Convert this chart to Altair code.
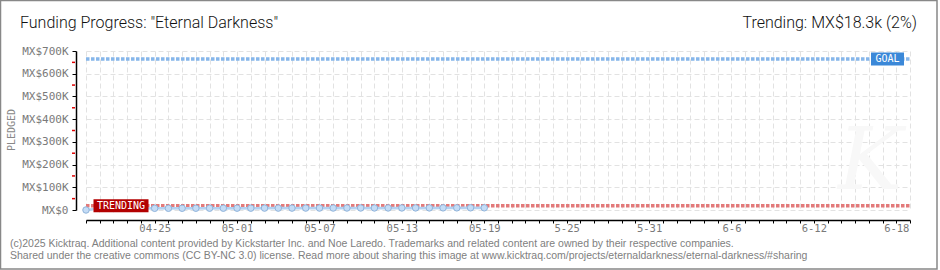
import altair as alt
import pandas as pd

# ---- data -------------------------------------------------------------
days = list(range(30))  # day index from 04-20
pledged = [0, 6500, 7000, 7200, 7300, 7500, 7600, 7700, 7800, 7900,
           8000, 8100, 8200, 8300, 8300, 8400, 8500, 8600, 8700, 8800,
           8900, 9000, 9000, 9100, 9200, 9300, 9400, 9500, 9600, 9700]
trend_value = 18300
goal_value = 665000
last_day = 60
tick_days = [5, 11, 17, 23, 29, 35, 41, 47, 53, 59]
tick_labels = ["04-25", "05-01", "05-07", "05-13", "05-19",
               "5-25", "5-31", "6-6", "6-12", "6-18"]
y_ticks = [0, 100000, 200000, 300000, 400000, 500000, 600000, 700000]
y_minor = [50000, 150000, 250000, 350000, 450000, 550000, 650000]

W, H = 824, 159
AXFONT = "DejaVu Sans Mono"

label_arr = ["" for _ in range(last_day + 1)]
for d, l in zip(tick_days, tick_labels):
    label_arr[d] = l
label_expr = "[" + ",".join("'" + s + "'" for s in label_arr) + "][datum.value]"

pl_df = pd.DataFrame({"day": days, "pledged": pledged})
trend_df = pd.DataFrame({"d0": [0], "d1": [last_day], "v": [trend_value]})
goal_df = pd.DataFrame({"d0": [0], "d1": [last_day], "v": [goal_value]})

xscale = alt.Scale(domain=[0, last_day], nice=False, zero=False)
yscale = alt.Scale(domain=[0, 700000], nice=False)

x_axis = alt.Axis(values=list(range(last_day + 1)), labelExpr=label_expr,
                  title=None, offset=10, domainColor="#000", tickColor="#000",
                  tickSize=3, labelFont=AXFONT, labelFontSize=10.5,
                  labelColor="#7a7a7a", labelPadding=0, labelOverlap=False,
                  labelFlush=False, grid=True, gridColor="#e2e2e2",
                  gridDash=[5, 3], domainWidth=1.5)
y_axis = alt.Axis(values=y_ticks,
                  labelExpr="datum.value == 0 ? 'MX$0' : 'MX$' + (datum.value/1000) + 'K'",
                  title=None, offset=10, domainColor="#000", tickColor="#000",
                  tickSize=4, labelFont=AXFONT, labelFontSize=11,
                  labelColor="#7a7a7a", labelPadding=4, labelOverlap=False,
                  labelFlush=False, grid=True,
                  gridColor="#e2e2e2", gridDash=[5, 3], domainWidth=1.5)


def X(f):
    return alt.X(f, scale=xscale, axis=x_axis)


def Y(f):
    return alt.Y(f, scale=yscale, axis=y_axis)


base_pl = alt.Chart(pl_df)

area = base_pl.mark_area(color="#dbe9f8", opacity=0.6).encode(
    x=X("day:Q"), y=Y("pledged:Q"))

trend = alt.Chart(trend_df).mark_rule(
    color="#e37a7a", strokeWidth=3.5, strokeDash=[3.5, 1.5]).encode(
    x=X("d0:Q"), x2="d1:Q", y=Y("v:Q"))
goal = alt.Chart(goal_df).mark_rule(
    color="#86b6ea", strokeWidth=3.5, strokeDash=[3.5, 1.5]).encode(
    x=X("d0:Q"), x2="d1:Q", y=Y("v:Q"))

pl_line = base_pl.mark_line(color="#b3d1f1", strokeWidth=2.5).encode(
    x=X("day:Q"), y=Y("pledged:Q"))
pl_pts = base_pl.mark_point(filled=True, size=42, color="#c4dcf6",
                            stroke="#8fb3da", strokeWidth=1, opacity=1).encode(
    x=X("day:Q"), y=Y("pledged:Q"))

trend_box = alt.Chart(trend_df).mark_point(
    shape="M-1,-0.236L1,-0.236L1,0.236L-1,0.236Z", size=3025, filled=True,
    color="#b30000", opacity=1).encode(x=alt.value(35), y=Y("v:Q"))
trend_txt = alt.Chart(trend_df).mark_text(
    text="TRENDING", font=AXFONT, fontSize=10, color="#ffffff",
    baseline="middle", align="center").encode(x=alt.value(35), y=Y("v:Q"))
goal_box = alt.Chart(goal_df).mark_point(
    shape="M-1,-0.394L1,-0.394L1,0.394L-1,0.394Z", size=1089, filled=True,
    color="#3b88d8", opacity=1).encode(x=alt.value(801.5), y=Y("v:Q"))
goal_txt = alt.Chart(goal_df).mark_text(
    text="GOAL", font=AXFONT, fontSize=10, color="#ffffff",
    baseline="middle", align="center").encode(x=alt.value(801.5), y=Y("v:Q"))

minor = alt.Chart(pd.DataFrame({"v": y_minor})).mark_rule(
    color="#e00000", strokeWidth=1.5).encode(
    x=alt.value(-14), x2=alt.value(-11), y=Y("v:Q"))

one = pd.DataFrame({"a": [0]})
watermark = alt.Chart(one).mark_text(
    text="K", font="DejaVu Serif", fontSize=86, fontStyle="italic",
    color="#f8f8f8", align="center", baseline="middle").encode(
    x=alt.value(784), y=alt.value(112))

title_l = alt.Chart(one).mark_text(
    text='Funding Progress: "Eternal Darkness"', font="Roboto", fontSize=16,
    fontWeight=300, color="#111111", align="left", baseline="alphabetic").encode(
    x=alt.value(-66), y=alt.value(-23))
title_r = alt.Chart(one).mark_text(
    text="Trending:  MX$18.3k (2%)", font="Roboto", fontSize=16,
    fontWeight=300, color="#111111", align="right", baseline="alphabetic").encode(
    x=alt.value(831), y=alt.value(-23))
ytitle = alt.Chart(one).mark_text(
    text="PLEDGED", font=AXFONT, fontSize=10, color="#888888", angle=270,
    align="center", baseline="middle").encode(
    x=alt.value(-74), y=alt.value(79))
foot1 = alt.Chart(one).mark_text(
    text="(c)2025 Kicktraq. Additional content provided by Kickstarter Inc. and Noe Laredo. Trademarks and related content are owned by their respective companies.",
    font="Liberation Sans", fontSize=10.5, color="#808080", align="left",
    baseline="middle").encode(x=alt.value(-76), y=alt.value(193))
foot2 = alt.Chart(one).mark_text(
    text="Shared under the creative commons (CC BY-NC 3.0) license. Read more about sharing this image at www.kicktraq.com/projects/eternaldarkness/eternal-darkness/#sharing",
    font="Liberation Sans", fontSize=10.5, color="#808080", align="left",
    baseline="middle").encode(x=alt.value(-76), y=alt.value(205))
border = alt.Chart(one).mark_rect(
    fill=None, stroke="#888888", strokeWidth=1.5).encode(
    x=alt.value(-85.5), x2=alt.value(851), y=alt.value(-50.5), y2=alt.value(218))

chart = alt.layer(
    area, watermark, trend, goal, pl_line, pl_pts, trend_box, trend_txt,
    goal_box, goal_txt, minor, title_l, title_r, ytitle, foot1, foot2, border
).properties(
    width=W, height=H,
    autosize=alt.AutoSizeParams(type="none"),
    padding={"left": 86, "top": 51, "right": 30, "bottom": 60},
    background="#ffffff",
).configure_view(stroke=None)

chart.save("out.html", embed_options={"renderer": "svg", "actions": False})
